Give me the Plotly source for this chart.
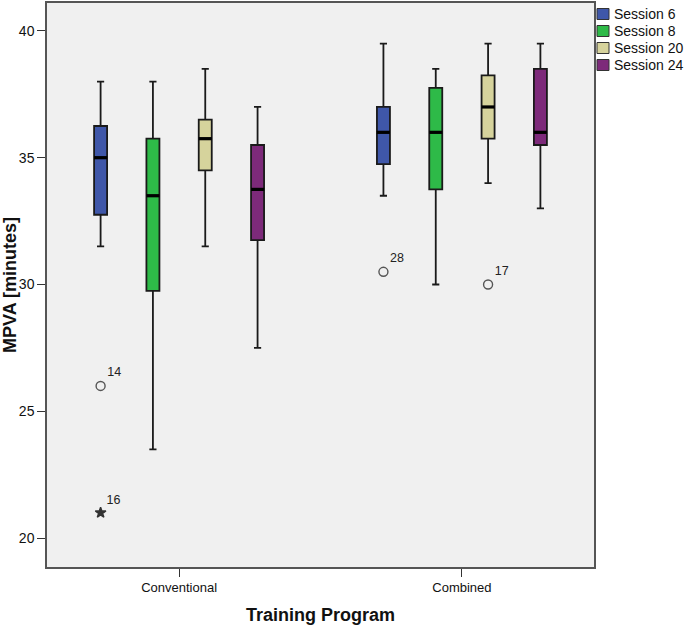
import plotly.graph_objects as go

programs = ["Conventional", "Combined"]
sessions = ["Session 6", "Session 8", "Session 20", "Session 24"]
colors = ["#3F57A9", "#2EBA48", "#D6D39C", "#7D2A7A"]

# five-number summaries per session: [Conventional, Combined]
lower = {
    "Session 6": [31.5, 33.5],
    "Session 8": [23.5, 30.0],
    "Session 20": [31.5, 34.0],
    "Session 24": [27.5, 33.0],
}
q1 = {
    "Session 6": [32.75, 34.75],
    "Session 8": [29.75, 33.75],
    "Session 20": [34.5, 35.75],
    "Session 24": [31.75, 35.5],
}
median = {
    "Session 6": [35.0, 36.0],
    "Session 8": [33.5, 36.0],
    "Session 20": [35.75, 37.0],
    "Session 24": [33.75, 36.0],
}
q3 = {
    "Session 6": [36.25, 37.0],
    "Session 8": [35.75, 37.75],
    "Session 20": [36.5, 38.25],
    "Session 24": [35.5, 38.5],
}
upper = {
    "Session 6": [38.0, 39.5],
    "Session 8": [38.0, 38.5],
    "Session 20": [38.5, 39.5],
    "Session 24": [37.0, 39.5],
}

# outliers
out_program = ["Conventional", "Conventional", "Combined", "Combined"]
out_session = ["Session 6", "Session 6", "Session 6", "Session 20"]
out_value = [26.0, 21.0, 30.5, 30.0]
out_label = ["14", "16", "28", "17"]
out_kind = ["circle", "star", "circle", "circle"]

y_ticks = [20, 25, 30, 35, 40]

spacing = 0.185
box_w = 0.046

W, H = 685, 627
ML, MR, MT, MB = 47, 91, 3, 60
PW = W - ML - MR
PH = H - MT - MB


def pos(program, session):
    return programs.index(program) + (sessions.index(session) - 1.5) * spacing


fig = go.Figure()
for s, c in zip(sessions, colors):
    xs = [pos(p, s) for p in programs]
    fig.add_trace(go.Box(
        x=xs, q1=q1[s], median=median[s], q3=q3[s],
        lowerfence=lower[s], upperfence=upper[s],
        width=box_w, whiskerwidth=0.55,
        fillcolor=c, line=dict(color="#1a1a1a", width=1.8),
        name=s, boxpoints=False, hoverinfo="skip", showlegend=False,
    ))

# thick median bars
for s in sessions:
    mx, my = [], []
    for i, p in enumerate(programs):
        x0 = pos(p, s)
        mx += [x0 - box_w / 2, x0 + box_w / 2, None]
        my += [median[s][i], median[s][i], None]
    fig.add_trace(go.Scatter(x=mx, y=my, mode="lines",
                             line=dict(color="black", width=3.2),
                             showlegend=False, hoverinfo="skip"))

for kind, sym, size, mcol in [("circle", "circle-open", 9, "#555555"),
                              ("star", "star", 8, "#333333")]:
    idx = [i for i, k in enumerate(out_kind) if k == kind]
    fig.add_trace(go.Scatter(
        x=[pos(out_program[i], out_session[i]) for i in idx],
        y=[out_value[i] for i in idx],
        text=[out_label[i] for i in idx],
        mode="markers+text", textposition="top right",
        textfont=dict(family="Liberation Sans, Arial", size=12.5, color="#222222"),
        marker=dict(symbol=sym, size=size, color=mcol, line=dict(width=1.4, color=mcol)),
        showlegend=False, hoverinfo="skip",
    ))

# legend (swatches + labels) placed to the right of the plot area
leg_x0 = (597 - ML) / PW
sw_w = 12 / PW
for k, (s, c) in enumerate(zip(sessions, colors)):
    yc = 1 - (14 + 17 * k - MT) / PH
    hh = 5.5 / PH
    fig.add_shape(type="rect", xref="paper", yref="paper",
                  x0=leg_x0, x1=leg_x0 + sw_w, y0=yc - hh, y1=yc + hh,
                  fillcolor=c, line=dict(color="#333333", width=1))
    fig.add_annotation(xref="paper", yref="paper", x=(612 - ML) / PW, y=yc,
                       xanchor="left", yanchor="middle", text=s, showarrow=False,
                       font=dict(size=14, color="#111111"))

fig.update_layout(
    width=W, height=H,
    margin=dict(l=ML, r=MR, t=MT, b=MB, autoexpand=False),
    paper_bgcolor="white", plot_bgcolor="#F0F0F0",
    font=dict(family="Liberation Sans, Arial", color="#111111"),
    showlegend=False,
    xaxis=dict(
        range=[-0.467, 1.467], tickvals=[0, 1], ticktext=programs,
        showgrid=False, zeroline=False, showline=True, mirror=True,
        linecolor="#555555", linewidth=1.5, automargin=False,
        ticks="outside", ticklen=8, tickcolor="#333333",
        tickfont=dict(size=13),
        title=dict(text="<b>Training Program</b>", font=dict(size=18), standoff=14),
    ),
    yaxis=dict(
        range=[18.86, 41.1], tickvals=y_ticks,
        showgrid=False, zeroline=False, showline=True, mirror=True,
        linecolor="#555555", linewidth=1.5, automargin=False,
        ticks="outside", ticklen=8, tickcolor="#333333",
        tickfont=dict(size=14),
        title=dict(text="<b>MPVA [minutes]</b>", font=dict(size=18), standoff=4),
    ),
)

fig.write_html("out.html", config={"displayModeBar": False},
               post_script="document.body.style.margin='0';")
